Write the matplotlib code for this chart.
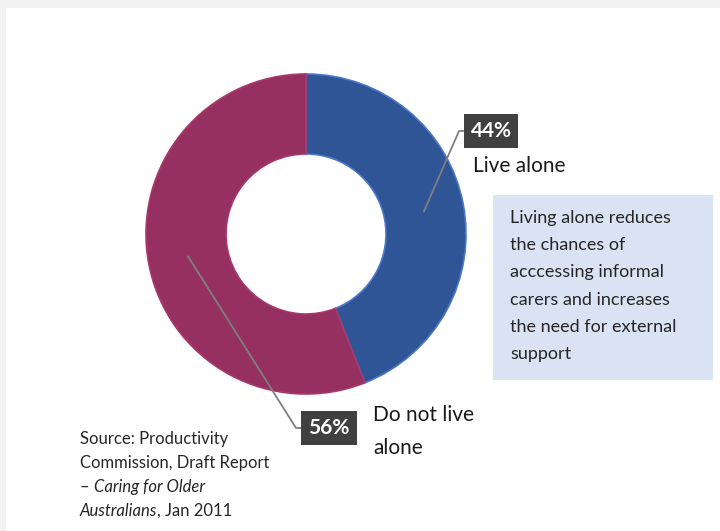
import numpy as np
import matplotlib

matplotlib.use("Agg")
import matplotlib.pyplot as plt
import matplotlib.patches as mpatches

plt.rcParams["font.family"] = ["Lato", "DejaVu Sans"]

# data
categories = ["Live alone", "Do not live\nalone"]
values = [44, 56]
pct_labels = ["44%", "56%"]
colors = ["#2f5597", "#953060"]
edges = ["#4a78c8", "#a8386c"]
note_lines = ["Living alone reduces", "the chances of", "acccessing informal",
              "carers and increases", "the need for external", "support"]
source_lines = [
    [("Source: Productivity", "normal")],
    [("Commission, Draft Report", "normal")],
    [("– ", "normal"), ("Caring for Older", "italic")],
    [("Australians", "italic"), (", Jan 2011", "normal")],
]

W, H = 720, 531
fig = plt.figure(figsize=(W / 100, H / 100), dpi=100)
fig.patch.set_facecolor("#f2f2f2")
ax = fig.add_axes([0, 0, 1, 1])

# white panel
ax.add_patch(mpatches.Rectangle((6, 0), W - 6, H - 8, facecolor="white",
                                edgecolor="none", zorder=0))

cx, cy, R, ring = 306, 297, 160, 80
wedges, _ = ax.pie(values, colors=colors, startangle=90, counterclock=False,
                   center=(cx, cy), radius=R, frame=True,
                   wedgeprops=dict(width=ring, linewidth=1.2))
for w, e in zip(wedges, edges):
    w.set_edgecolor(e)
ax.set_xlim(0, W)
ax.set_ylim(0, H)
ax.set_aspect("equal")
ax.axis("off")

# leader anchors from wedge mid angles
total = sum(values)
start = 90.0
anchors = []
for v in values:
    mid = start - v / total * 360 / 2
    r = R - ring / 2
    anchors.append((cx + r * np.cos(np.radians(mid)), cy + r * np.sin(np.radians(mid))))
    start -= v / total * 360

box_pos = [(491, H - 131), (329, H - 428)]
bend = [(459, H - 131), (296, H - 428)]
for i in range(2):
    (ax0, ay0), (bx, by), (px, py) = anchors[i], bend[i], box_pos[i]
    ax.plot([ax0, bx, px - 24], [ay0, by, py], color="#7f7f7f", lw=1.3, zorder=3)
    ax.text(px, py, pct_labels[i], ha="center", va="center", fontsize=15,
            fontweight="bold", color="white", zorder=5,
            bbox=dict(boxstyle="square,pad=0.33", facecolor="#404040",
                      edgecolor="none"))

ax.text(473, H - 166, categories[0], ha="left", va="center", fontsize=15,
        color="#1a1a1a")
for j, line in enumerate(categories[1].split("\n")):
    ax.text(373, H - 415 - 33 * j, line, ha="left", va="center", fontsize=15,
            color="#1a1a1a")

# note box
ax.add_patch(mpatches.Rectangle((493, H - 380), 220, 185, facecolor="#dae3f3",
                                edgecolor="none", zorder=2))
for j, line in enumerate(note_lines):
    ax.text(510, H - 218 - 27.2 * j, line, ha="left", va="center", fontsize=13,
            color="#262626", zorder=3)

# source
fig.canvas.draw()
renderer = fig.canvas.get_renderer()
for j, parts in enumerate(source_lines):
    x = 80
    for txt, st in parts:
        t = ax.text(x, H - 439 - 24 * j, txt, ha="left", va="center",
                    fontsize=12, color="#262626", style=st)
        bb = t.get_window_extent(renderer)
        x += bb.width

fig.savefig("out.png", dpi=100, facecolor=fig.get_facecolor())
